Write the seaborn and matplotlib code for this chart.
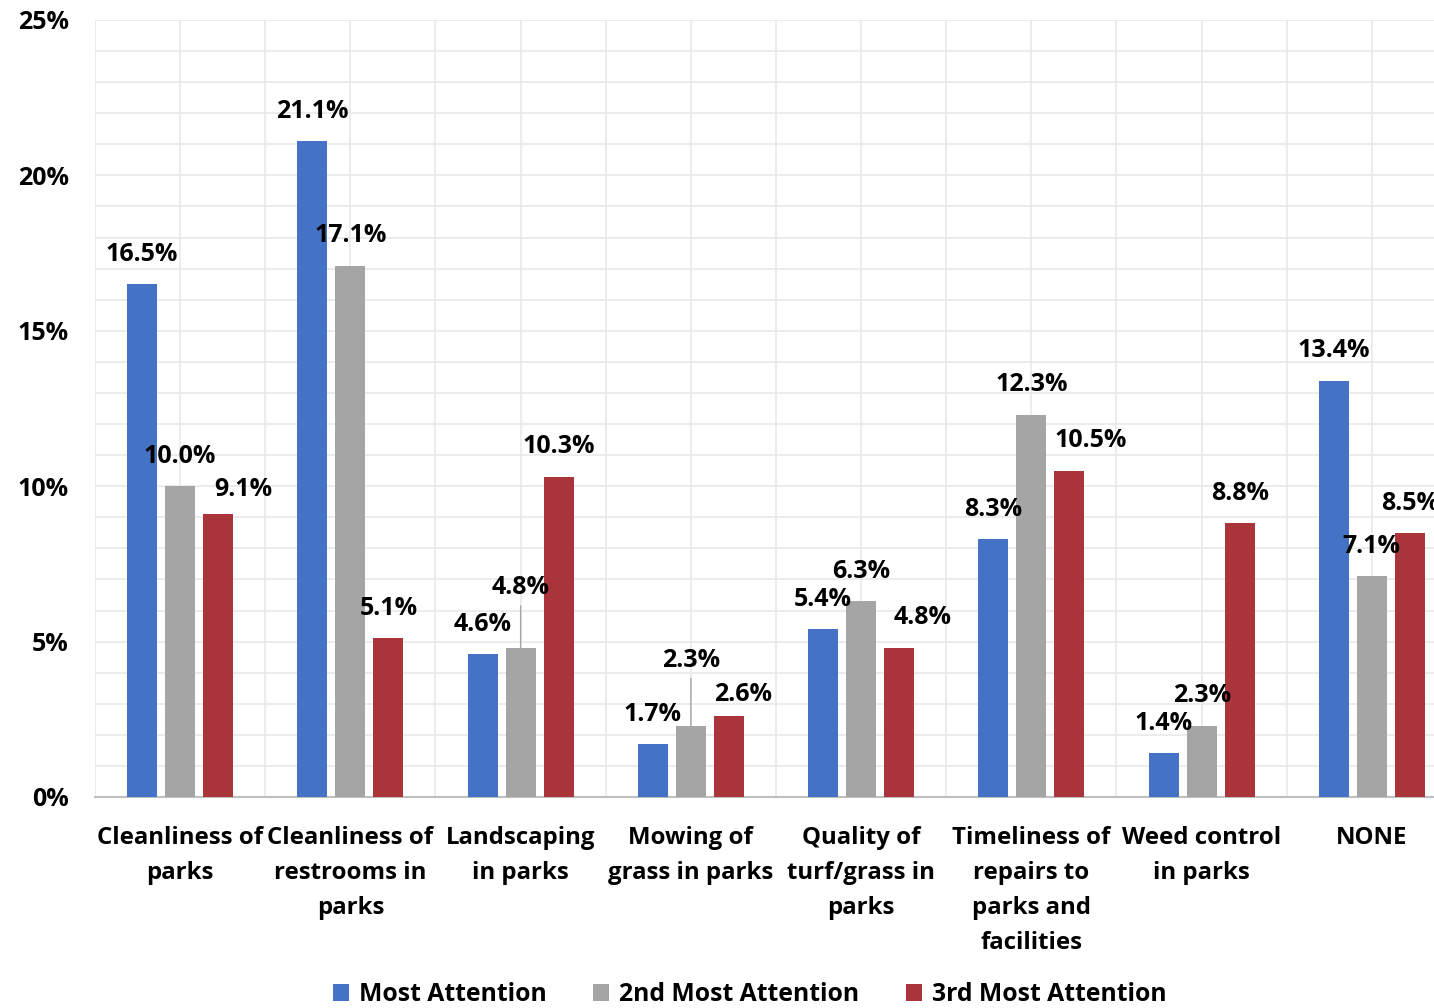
import matplotlib
matplotlib.use('Agg')
import matplotlib.pyplot as plt
import seaborn as sns
import pandas as pd
import numpy as np
from matplotlib.ticker import MultipleLocator, PercentFormatter

# дані з діаграми
categories = ['Cleanliness of\nparks', 'Cleanliness of\nrestrooms in\nparks', 'Landscaping\nin parks',
              'Mowing of\ngrass in parks', 'Quality of\nturf/grass in\nparks',
              'Timeliness of\nrepairs to\nparks and\nfacilities', 'Weed control\nin parks', 'NONE']
series = ['Most Attention', '2nd Most Attention', '3rd Most Attention']
most = [16.5, 21.1, 4.6, 1.7, 5.4, 8.3, 1.4, 13.4]
second = [10.0, 17.1, 4.8, 2.3, 6.3, 12.3, 2.3, 7.1]
third = [9.1, 5.1, 10.3, 2.6, 4.8, 10.5, 8.8, 8.5]
colors = ['#4472C4', '#A5A5A5', '#A9343A']

# зсуви підписів (px) – як у оригіналі
label_dx = [[0, 0, 0, 0, 0, 0, 0, 0],
            [0, 0, 0, 0, 0, 0, 0, 0],
            [25, 0, 0, 14, 23, 21, 0, 0]]
label_dy = [[30, 30, 30, 30, 30, 30, 30, 30],
            [30, 30, 60, 65, 30, 30, 30, 30],
            [25, 30, 30, 22, 30, 30, 30, 29]]

df = pd.DataFrame({
    'cat': categories * 3,
    'series': [s for s in series for _ in categories],
    'val': most + second + third,
})

plt.rcParams['font.family'] = ['Open Sans', 'DejaVu Sans']
plt.rcParams['font.weight'] = 'bold'

fig = plt.figure(figsize=(14.34, 10.08), dpi=100)
ax = fig.add_axes([95 / 1434, 211 / 1008, 1339 / 1434, 777 / 1008])

sns.barplot(data=df, x='cat', y='val', hue='series', palette=colors, saturation=1,
            width=0.67, gap=0.21, ax=ax, zorder=3)

ax.set_ylim(0, 25)
ax.set_xlim(-0.5, 7.365)
ax.yaxis.set_major_locator(MultipleLocator(5))
ax.yaxis.set_minor_locator(MultipleLocator(1))
ax.yaxis.set_major_formatter(PercentFormatter(decimals=0))
ax.xaxis.set_minor_locator(MultipleLocator(1, offset=0.5))
ax.grid(which='both', color='#e9e9e9', lw=1.2, zorder=0)
ax.set_axisbelow(True)
for s in ['top', 'right', 'left']:
    ax.spines[s].set_visible(False)
ax.spines['bottom'].set_color('#bfbfbf')
ax.spines['bottom'].set_linewidth(1.5)
ax.tick_params(which='both', length=0)
ax.tick_params(axis='y', labelsize=18, pad=19)
ax.tick_params(axis='x', labelsize=17.3, pad=21)
for t in ax.get_xticklabels():
    t.set_linespacing(1.6)
    t.set_fontweight('bold')
for t in ax.get_yticklabels():
    t.set_fontweight('bold')
ax.set_xlabel('')
ax.set_ylabel('')

# підписи значень
for i, cont in enumerate(ax.containers):
    for j, bar in enumerate(cont):
        h = bar.get_height()
        dy = label_dy[i][j] * 0.72
        dx = label_dx[i][j] * 0.72
        lead = dy > 40 * 0.72
        ax.annotate(f'{h:.1f}%', (bar.get_x() + bar.get_width() / 2, h),
                    xytext=(dx, dy), textcoords='offset points', ha='center', va='center',
                    fontsize=18, fontweight='bold', zorder=5,
                    arrowprops=dict(arrowstyle='-', color='#a6a6a6', lw=1, shrinkA=2, shrinkB=0) if lead else None)

leg = ax.legend(loc='lower center', bbox_to_anchor=(0.489, -0.272), ncol=3, frameon=False,
                prop={'size': 17.8, 'weight': 'bold'}, handlelength=0.65, handleheight=0.65,
                handletextpad=0.4, columnspacing=1.9, borderaxespad=0, borderpad=0.05)

fig.savefig('out.png', dpi=100)
